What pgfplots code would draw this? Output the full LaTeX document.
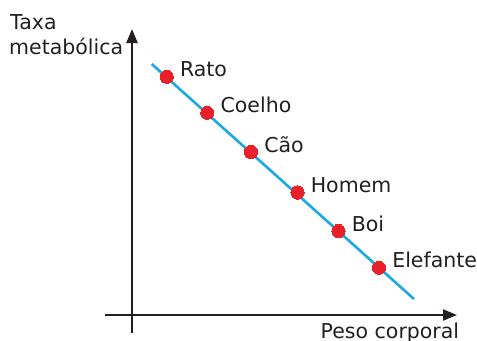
\documentclass[border=0pt]{standalone}
\usepackage{fontspec}
\setmainfont{DejaVu Sans}
\usepackage{pgfplots}
\pgfplotsset{compat=1.18}
\usetikzlibrary{arrows.meta}
\definecolor{axc}{HTML}{231F20}
\definecolor{linec}{HTML}{1BA9E1}
\definecolor{dotc}{HTML}{E8202A}
\begin{document}
\begin{tikzpicture}
\begin{axis}[
  x=1bp, y=1bp, y dir=reverse,
  xmin=0, xmax=477, ymin=0, ymax=340,
  hide axis, clip=false, scale only axis,
]
\coordinate (ll) at (axis cs:0,340);
\coordinate (ur) at (axis cs:477,0);
% axes
\draw[axc, line width=2.2bp, -{Triangle[length=14bp,width=11bp]}] (axis cs:132,333) -- (axis cs:132,29);
\draw[axc, line width=2.2bp, -{Triangle[length=14bp,width=11bp]}] (axis cs:105,315) -- (axis cs:457,315);
% line
\addplot[linec, line width=2.6bp] coordinates {(151.7,64) (414,299)};
% points
\addplot[color=dotc, only marks, mark=*, mark size=6.6bp, mark options={fill=dotc, draw=dotc, line width=0pt},
  point meta=explicit symbolic, nodes near coords,
  nodes near coords style={anchor=base west, xshift=10bp, yshift=0bp, text=axc, font=\fontsize{20.5bp}{24bp}\selectfont}]
  coordinates {
  (166.7,76.7) [Rato]
  (207.3,112.7) [Coelho]
  (251.0,152.0) [Cão]
  (297.5,192.5) [Homem]
  (338.5,231.0) [Boi]
  (379.0,267.7) [Elefante]
  };
\node[anchor=base west, text=axc, font=\fontsize{20.5bp}{24bp}\selectfont, inner sep=0pt] at (axis cs:10,29) {Taxa};
\node[anchor=base west, text=axc, font=\fontsize{20.5bp}{24bp}\selectfont, inner sep=0pt] at (axis cs:9,54) {metabólica};
\node[anchor=base west, text=axc, font=\fontsize{20.5bp}{24bp}\selectfont, inner sep=0pt] at (axis cs:320.5,338) {Peso corporal};
\end{axis}
\pgfresetboundingbox
\path[use as bounding box] (ll) rectangle (ur);
\end{tikzpicture}
\end{document}
